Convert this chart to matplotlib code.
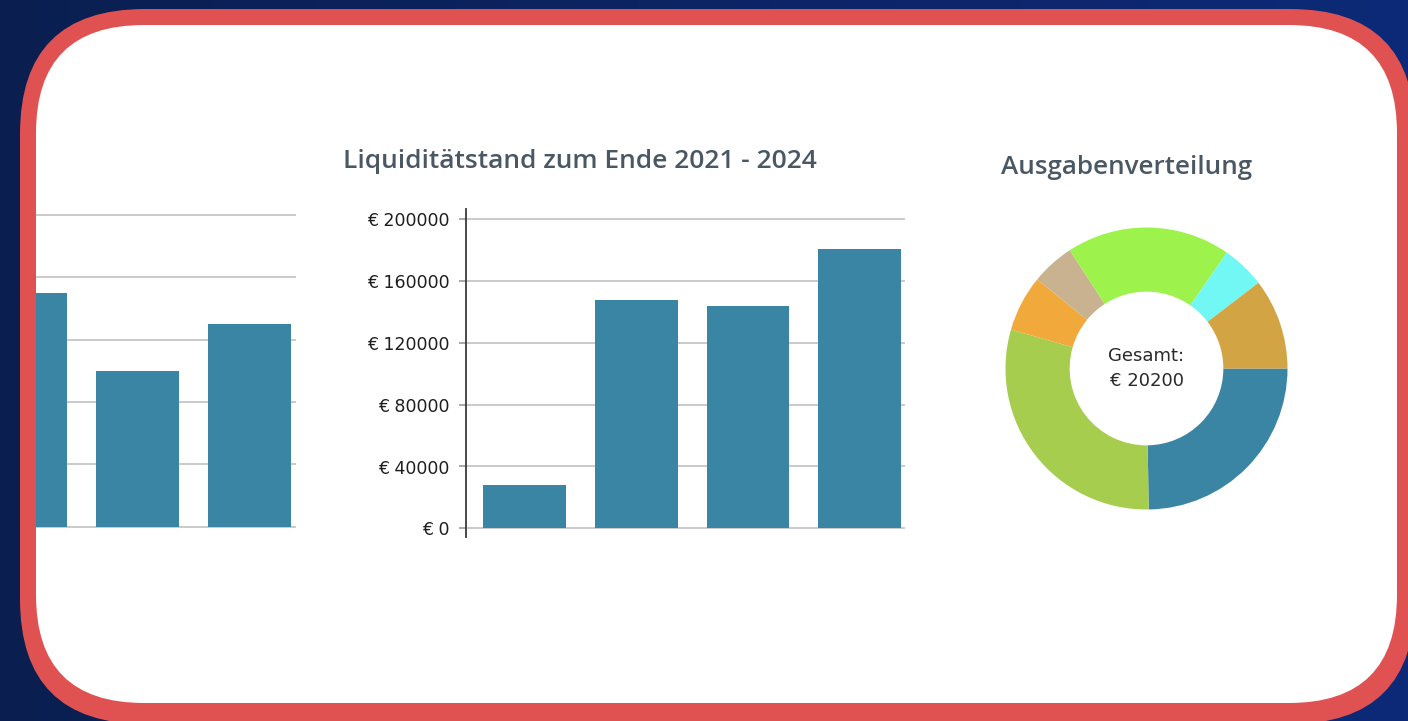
import numpy as np
import matplotlib
matplotlib.use("Agg")
import matplotlib.pyplot as plt
from matplotlib.patches import FancyBboxPatch
from matplotlib.colors import LinearSegmentedColormap

# Daten
links_werte = [150000, 100000, 130000]          # linkes (angeschnittenes) Diagramm
jahre = ["2021", "2022", "2023", "2024"]
liquiditaet = [28000, 148000, 144000, 181000]
y_ticks = [0, 40000, 80000, 120000, 160000, 200000]

ausgaben_werte = [5000, 6000, 1300, 1000, 3800, 1000, 2100]
ausgaben_farben = ["#3B85A4", "#A6CD4E", "#F2A93C", "#C8B290", "#9DF34B", "#71F7F4", "#D3A443"]
gesamt = sum(ausgaben_werte)

W, H = 1408, 721
BALKEN = "#3B85A4"
GITTER = "#CACACA"
TITEL = "#4A5865"


def px_box(left, top, right, bottom):
    return [left / W, 1 - bottom / H, (right - left) / W, (bottom - top) / H]


fig = plt.figure(figsize=(W / 100, H / 100), dpi=100)

# Hintergrund mit Rahmen
bg = fig.add_axes([0, 0, 1, 1])
bg.set_xlim(0, W)
bg.set_ylim(H, 0)
bg.axis("off")
cmap = LinearSegmentedColormap.from_list("navy", ["#0A1F50", "#0D2A78"])
bg.imshow(np.linspace(0, 1, 256)[None, :], cmap=cmap, aspect="auto",
          extent=[0, W, H, 0], zorder=0)
bg.add_patch(FancyBboxPatch((20, 9), 1395, 715, boxstyle="round,pad=0,rounding_size=125",
                            fc="#E05252", ec="none", zorder=1))
bg.add_patch(FancyBboxPatch((36, 25), 1361, 678, boxstyle="round,pad=0,rounding_size=108",
                            fc="white", ec="none", zorder=2))

bg.text(343, 161, "Liquiditätstand zum Ende 2021 - 2024", fontsize=19, family="Open Sans",
        weight="semibold", color=TITEL, ha="left", va="center", zorder=3)
bg.text(1001, 167, "Ausgabenverteilung", fontsize=18.7, family="Open Sans",
        weight="semibold", color=TITEL, ha="left", va="center", zorder=3)


def stil(ax):
    ax.set_facecolor("none")
    for s in ["top", "right", "bottom"]:
        ax.spines[s].set_visible(False)
    ax.set_yticks(y_ticks)
    ax.yaxis.grid(True, color=GITTER, linewidth=1.4)
    ax.set_axisbelow(True)
    ax.tick_params(axis="x", length=0, labelbottom=False)


# linkes Diagramm (nur teilweise sichtbar)
px_pro_wert = 311.7 / 200000
ax1 = fig.add_axes(px_box(36, 205, 295.7, 536.7))
stil(ax1)
ax1.bar(range(len(links_werte)), links_werte, width=0.74, color=BALKEN, zorder=2)
ax1.set_xlim(0.096, 2.414)
ax1.set_ylim(-10 / px_pro_wert, 200000 + 10 / px_pro_wert)
ax1.spines["left"].set_visible(False)
ax1.tick_params(axis="y", length=0, labelleft=False)

# mittleres Diagramm
px_pro_wert = 309 / 200000
ax2 = fig.add_axes(px_box(466, 209, 905, 537))
stil(ax2)
ax2.bar(range(len(jahre)), liquiditaet, width=0.74, color=BALKEN, zorder=2)
ax2.set_xlim(-0.526, 3.408)
ax2.set_ylim(-8.7 / px_pro_wert, 200000 + 10.3 / px_pro_wert)
ax2.spines["left"].set_color("#3A3A3A")
ax2.spines["left"].set_linewidth(1.3)
ax2.set_yticklabels([f"€ {v}" for v in y_ticks])
ax2.tick_params(axis="y", length=5, width=1.2, color="#9A9A9A", pad=7,
                labelsize=12.5, labelcolor="#1E1E1E")

# Donut
r = 141
cx, cy = 1146.5, 368.5
ax3 = fig.add_axes(px_box(cx - 150, cy - 150, cx + 150, cy + 150))
ax3.pie(ausgaben_werte, colors=ausgaben_farben, startangle=0, counterclock=False,
        radius=1, wedgeprops=dict(width=0.455, linewidth=0))
lim = 150 / r
ax3.set_xlim(-lim, lim)
ax3.set_ylim(-lim, lim)
ax3.set_aspect("equal")
ax3.text(0, 0, f"Gesamt:\n€ {gesamt}", ha="center", va="center", fontsize=13,
         color="#2A2A2A", linespacing=1.45)

fig.savefig("out.png", dpi=100)
